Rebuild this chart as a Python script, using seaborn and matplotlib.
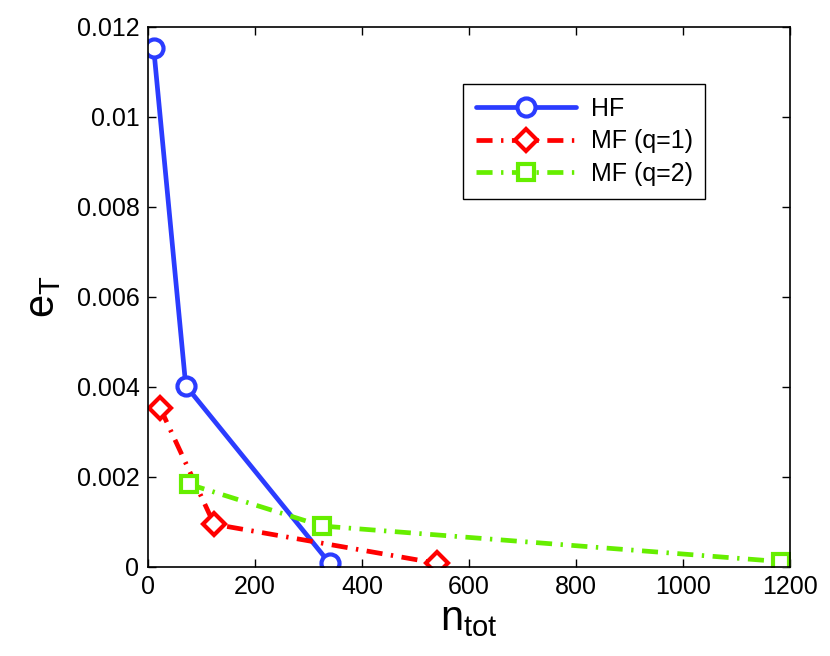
import numpy as np
import pandas as pd
import seaborn as sns
import matplotlib
matplotlib.use('Agg')
import matplotlib.pyplot as plt

# values
hf_n = [11, 71, 340]
hf_e = [0.01154, 0.00403, 0.00008]

mf1_n = [23, 124, 541]
mf1_e = [0.00354, 0.00095, 0.00008]

mf2_n = [77, 326, 1182]
mf2_e = [0.00184, 0.00091, 0.00012]

labels = ['HF', 'MF (q=1)', 'MF (q=2)']
x_ticks = [0, 200, 400, 600, 800, 1000, 1200]
y_ticks = [0, 0.002, 0.004, 0.006, 0.008, 0.01, 0.012]

sns.set_style('ticks')
plt.rcParams['font.family'] = ['Liberation Sans', 'DejaVu Sans']
plt.rcParams['mathtext.fontset'] = 'custom'
plt.rcParams['mathtext.rm'] = 'Liberation Sans'
plt.rcParams['text.color'] = 'black'
plt.rcParams['axes.labelcolor'] = 'black'
plt.rcParams['xtick.color'] = 'black'
plt.rcParams['ytick.color'] = 'black'
plt.rcParams['axes.edgecolor'] = 'black'

fig = plt.figure(figsize=(8.3, 6.56), dpi=100)
ax = fig.add_axes([0.178, 0.1357, 0.774, 0.8232])

dashdot = (0, (3.4, 1.8, 0.5, 1.8))

sns.lineplot(x=hf_n, y=hf_e, ax=ax, color='#2b3cff', lw=3.4, linestyle='-',
             marker='o', markersize=13, markeredgewidth=3, markerfacecolor='white',
             markeredgecolor='#2b3cff', label=labels[0])
sns.lineplot(x=mf1_n, y=mf1_e, ax=ax, color='#ff0000', lw=3.4, linestyle=dashdot,
             marker='D', markersize=11, markeredgewidth=3, markerfacecolor='white',
             markeredgecolor='#ff0000', label=labels[1])
sns.lineplot(x=mf2_n, y=mf2_e, ax=ax, color='#66ee00', lw=3.4, linestyle=dashdot,
             marker='s', markersize=11, markeredgewidth=3, markerfacecolor='white',
             markeredgecolor='#66ee00', label=labels[2])

ax.set_xlim(0, 1200)
ax.set_ylim(0, 0.012)
ax.set_xticks(x_ticks)
ax.set_xticklabels([str(t) for t in x_ticks])
ax.set_yticks(y_ticks)
ax.set_yticklabels(['%g' % t for t in y_ticks])
ax.tick_params(direction='in', top=True, right=True, labelsize=18, length=6, width=1, pad=6)
for s in ax.spines.values():
    s.set_linewidth(1.2)

ax.set_xlabel(r'$\mathregular{n_{tot}}$', fontsize=30, labelpad=0)
ax.set_ylabel(r'$\mathregular{e_T}$', fontsize=30, labelpad=10)

leg = ax.legend(loc='upper left', bbox_to_anchor=(0.491, 0.894), fontsize=18,
                frameon=True, fancybox=False, edgecolor='black', framealpha=1,
                handlelength=4.0, borderpad=0.5, labelspacing=0.35, handletextpad=0.6,
                borderaxespad=0)
leg.get_frame().set_linewidth(1.0)

fig.savefig('out.png', dpi=100)
